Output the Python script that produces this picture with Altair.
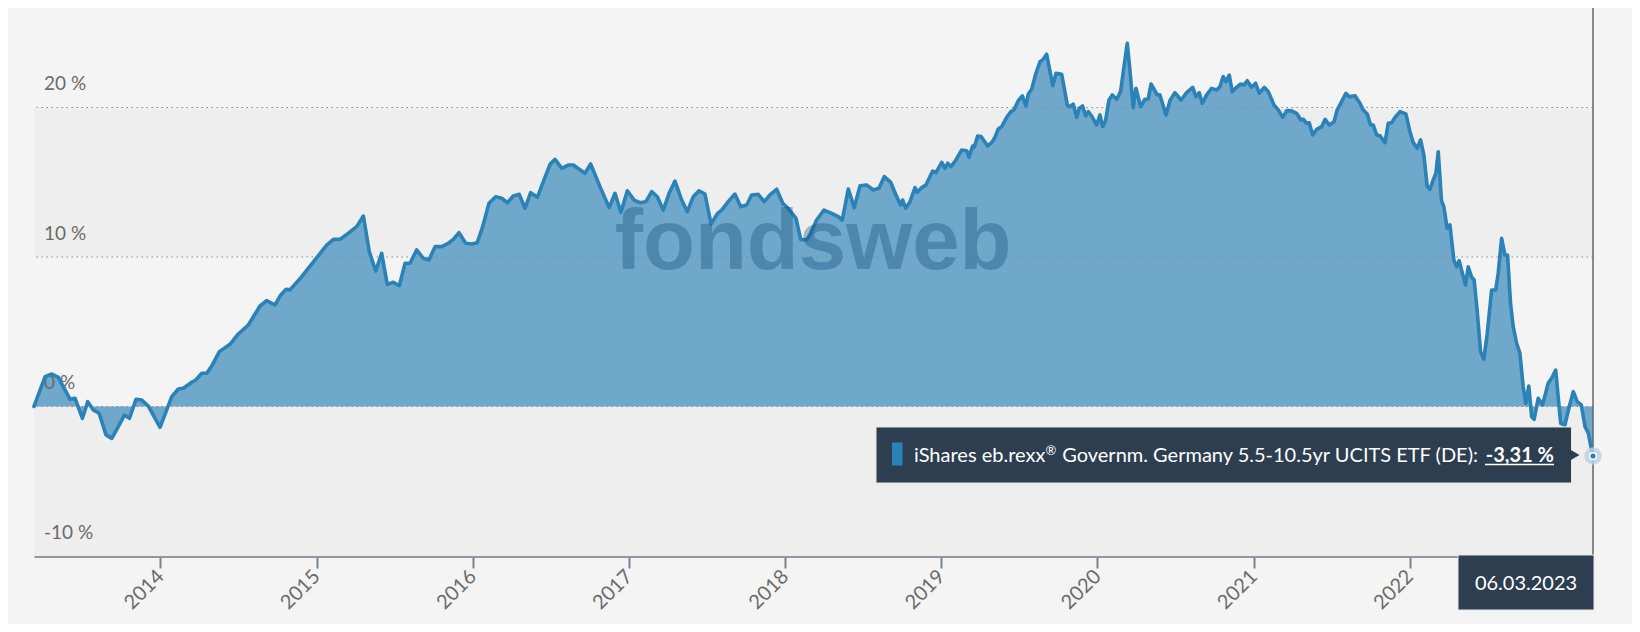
import altair as alt
import pandas as pd

# ---- data (decimal year, performance in %) ----
years = [
    2013.191, 2013.262, 2013.305, 2013.347, 2013.422, 2013.454, 2013.501, 2013.535, 2013.571, 2013.608,
    2013.652, 2013.689, 2013.731, 2013.770, 2013.802, 2013.844, 2013.881, 2013.923, 2013.998, 2014.073,
    2014.115, 2014.147, 2014.201, 2014.227, 2014.265, 2014.297, 2014.333, 2014.378, 2014.446, 2014.499,
    2014.563, 2014.638, 2014.681, 2014.734, 2014.771, 2014.805, 2014.830, 2014.905, 2014.990, 2015.065,
    2015.108, 2015.150, 2015.204, 2015.257, 2015.300, 2015.338, 2015.379, 2015.417, 2015.453, 2015.492,
    2015.530, 2015.567, 2015.599, 2015.641, 2015.684, 2015.720, 2015.759, 2015.802, 2015.844, 2015.876,
    2015.912, 2015.955, 2015.994, 2016.029, 2016.064, 2016.104, 2016.147, 2016.186, 2016.222, 2016.260,
    2016.298, 2016.335, 2016.371, 2016.414, 2016.452, 2016.495, 2016.527, 2016.570, 2016.612, 2016.644,
    2016.682, 2016.719, 2016.755, 2016.815, 2016.874, 2016.911, 2016.949, 2016.990, 2017.033, 2017.071,
    2017.109, 2017.146, 2017.182, 2017.220, 2017.259, 2017.295, 2017.338, 2017.374, 2017.412, 2017.449,
    2017.487, 2017.526, 2017.568, 2017.594, 2017.636, 2017.679, 2017.716, 2017.754, 2017.786, 2017.828,
    2017.867, 2017.903, 2017.946, 2017.985, 2018.020, 2018.070, 2018.100, 2018.138, 2018.159, 2018.202,
    2018.249, 2018.298, 2018.341, 2018.366, 2018.405, 2018.443, 2018.480, 2018.522, 2018.565, 2018.601,
    2018.635, 2018.676, 2018.710, 2018.740, 2018.753, 2018.772, 2018.800, 2018.832, 2018.846, 2018.875,
    2018.902, 2018.945, 2018.966, 2019.003, 2019.024, 2019.041, 2019.062, 2019.094, 2019.131, 2019.163,
    2019.178, 2019.201, 2019.211, 2019.233, 2019.255, 2019.275, 2019.297, 2019.327, 2019.344, 2019.365,
    2019.387, 2019.419, 2019.446, 2019.465, 2019.493, 2019.519, 2019.542, 2019.557, 2019.579, 2019.606,
    2019.632, 2019.653, 2019.675, 2019.714, 2019.735, 2019.771, 2019.807, 2019.824, 2019.845, 2019.867,
    2019.884, 2019.905, 2019.925, 2019.941, 2019.963, 2019.995, 2020.016, 2020.033, 2020.052, 2020.074,
    2020.095, 2020.123, 2020.148, 2020.170, 2020.191, 2020.208, 2020.229, 2020.247, 2020.277, 2020.304,
    2020.325, 2020.343, 2020.383, 2020.400, 2020.439, 2020.464, 2020.496, 2020.535, 2020.571, 2020.610,
    2020.631, 2020.652, 2020.671, 2020.699, 2020.731, 2020.763, 2020.784, 2020.805, 2020.823, 2020.844,
    2020.863, 2020.891, 2020.917, 2020.938, 2020.959, 2020.987, 2021.013, 2021.036, 2021.068, 2021.094,
    2021.130, 2021.158, 2021.186, 2021.212, 2021.243, 2021.275, 2021.303, 2021.318, 2021.340, 2021.356,
    2021.378, 2021.404, 2021.436, 2021.458, 2021.485, 2021.515, 2021.535, 2021.563, 2021.591, 2021.612,
    2021.649, 2021.681, 2021.702, 2021.727, 2021.749, 2021.766, 2021.788, 2021.809, 2021.841, 2021.862,
    2021.884, 2021.905, 2021.937, 2021.975, 2022.001, 2022.022, 2022.047, 2022.069, 2022.090, 2022.111,
    2022.129, 2022.150, 2022.167, 2022.182, 2022.203, 2022.218, 2022.239, 2022.257, 2022.282, 2022.300,
    2022.316, 2022.338, 2022.357, 2022.374, 2022.396, 2022.412, 2022.431, 2022.453, 2022.474, 2022.496,
    2022.524, 2022.550, 2022.566, 2022.588, 2022.609, 2022.626, 2022.645, 2022.662, 2022.684, 2022.705,
    2022.726, 2022.743, 2022.762, 2022.780, 2022.796, 2022.822, 2022.850, 2022.886, 2022.908, 2022.934,
    2022.966, 2022.993, 2023.021, 2023.047, 2023.072, 2023.098, 2023.122, 2023.143, 2023.164, 2023.173,
]
perf = [
    0.00, 2.00, 2.17, 1.95, 0.48, 0.55, -0.79, 0.32, -0.23, -0.45,
    -1.90, -2.13, -1.35, -0.57, -0.79, 0.48, 0.43, 0.03, -1.39, 0.66,
    1.17, 1.22, 1.62, 1.77, 2.22, 2.22, 2.78, 3.67, 4.16, 4.85,
    5.45, 6.72, 7.08, 6.79, 7.46, 7.84, 7.80, 8.68, 9.80, 10.80,
    11.18, 11.18, 11.59, 12.03, 12.74, 10.35, 9.06, 10.25, 8.17, 8.31,
    8.08, 9.58, 9.58, 10.47, 9.91, 9.80, 10.69, 10.69, 10.92, 11.18,
    11.63, 10.92, 10.87, 10.96, 12.03, 13.59, 14.03, 13.93, 13.63, 14.08,
    14.19, 13.26, 14.30, 13.99, 15.04, 16.20, 16.53, 15.93, 16.15, 16.15,
    15.87, 15.60, 16.22, 14.70, 13.30, 14.26, 12.99, 14.43, 13.81, 13.63,
    13.70, 14.37, 14.03, 13.14, 14.30, 15.08, 13.81, 13.03, 14.03, 14.43,
    14.21, 12.21, 12.92, 13.14, 13.70, 14.21, 13.36, 13.48, 14.15, 14.19,
    13.70, 14.15, 14.53, 13.59, 13.26, 12.59, 11.18, 11.14, 11.47, 12.47,
    13.14, 12.92, 12.70, 12.47, 14.55, 13.30, 14.77, 14.82, 14.48, 14.60,
    15.37, 15.00, 14.15, 13.48, 13.81, 13.26, 13.70, 14.64, 14.33, 14.64,
    14.82, 15.75, 15.64, 16.33, 15.93, 16.27, 16.04, 16.49, 17.16, 17.11,
    16.67, 17.42, 17.34, 18.09, 18.05, 17.76, 17.42, 17.71, 18.01, 18.56,
    18.72, 19.34, 19.72, 19.83, 20.45, 20.77, 20.10, 20.90, 21.22, 22.29,
    23.06, 23.22, 23.56, 21.46, 22.29, 22.22, 20.17, 20.05, 20.23, 19.34,
    19.95, 20.10, 19.43, 19.72, 19.43, 18.83, 19.50, 18.72, 19.12, 20.50,
    20.84, 20.55, 21.06, 22.73, 24.29, 22.51, 19.99, 21.28, 20.05, 20.55,
    20.55, 21.57, 20.84, 20.84, 19.50, 20.45, 20.99, 20.50, 20.99, 21.35,
    20.72, 20.99, 20.28, 20.84, 21.28, 21.17, 21.39, 22.06, 21.73, 22.17,
    21.06, 21.35, 21.57, 21.50, 21.79, 21.35, 21.62, 20.95, 21.35, 21.06,
    20.17, 19.83, 19.34, 19.79, 19.77, 19.61, 19.16, 19.21, 18.94, 18.98,
    18.16, 18.54, 18.72, 19.21, 18.83, 19.05, 19.83, 20.39, 20.95, 20.72,
    20.79, 20.28, 19.83, 19.57, 18.83, 18.83, 18.16, 18.11, 17.65, 18.94,
    18.98, 19.34, 19.72, 19.57, 18.38, 17.65, 17.27, 17.83, 16.82, 14.75,
    14.53, 15.15, 15.60, 17.04, 13.77, 13.36, 11.92, 12.14, 9.80, 9.35,
    9.75, 8.86, 8.13, 9.35, 8.64, 8.46, 6.45, 3.67, 3.16, 4.90,
    7.79, 7.79, 8.91, 11.25, 10.13, 10.13, 6.90, 5.34, 4.23, 3.56,
    1.32, 0.21, 1.37, -0.68, -0.86, 0.55, 0.10, 1.55, 1.89, 2.44,
    -1.12, -1.24, 0.00, 0.99, 0.32, 0.10, -1.35, -1.79, -2.91, -3.31,
]

tick_years = [2014, 2015, 2016, 2017, 2018, 2019, 2020, 2021, 2022]
grid_values = [20, 10, 0]
label_values = [20, 10, 0, -10]
label_texts = ["20 %", "10 %", "0 %", "-10 %"]
band_lo = [-10, 10]
band_hi = [0, 20]
fund_name_a = "iShares eb.rexx"
fund_name_reg = "\u00ae"
fund_name_b = "Governm. Germany 5.5-10.5yr UCITS ETF (DE):"
last_value_label = "-3,31 %"
last_date_label = "06.03.2023"
watermark = "fondsweb"

# ---- styling ----
W, H = 1559, 546
FONT = "Lato"
LINE_C = "#2a82b9"
FILL_C = "#6fa8cb"
NAVY = "#2d3e50"

x_scale = alt.Scale(domain=[2013.191, 2023.173], nice=False, zero=False)
y_scale = alt.Scale(domain=[-10, 26.52], nice=False, zero=False)

df = pd.DataFrame({"t": years, "v": perf})
last = df.iloc[[-1]].reset_index(drop=True)
one = pd.DataFrame({"a": [0]})

x_axis = alt.Axis(
    values=tick_years, format="d", title=None, grid=False,
    labelAngle=315, labelAlign="right", labelBaseline="middle",
    labelFont=FONT, labelFontSize=20, labelColor="#6b6b6b", labelPadding=5,
    labelFlush=False, labelOverlap=False,
    tickSize=12, tickWidth=2, tickColor="#7b838d",
    domainColor="#8f969f", domainWidth=3,
)
X = alt.X("t:Q", scale=x_scale, axis=x_axis)
Y = alt.Y("v:Q", scale=y_scale, axis=None)

bands = alt.Chart(pd.DataFrame({"lo": band_lo, "hi": band_hi})).mark_rect(
    color="#eeeeee"
).encode(
    x=alt.value(0), x2=alt.value(W),
    y=alt.Y("lo:Q", scale=y_scale, axis=None), y2="hi:Q",
)

area = alt.Chart(df).mark_area(color=FILL_C, opacity=1).encode(
    x=X, y=Y, y2=alt.datum(0)
)

grid = alt.Chart(pd.DataFrame({"v": grid_values})).mark_rule(
    color="#8c8c8c", strokeWidth=1.2, strokeDash=[1.5, 3.5]
).encode(y=Y)

ylabels = alt.Chart(pd.DataFrame({"v": label_values, "label": label_texts})).mark_text(
    font=FONT, fontSize=19, color="#6b6b6b", align="left", baseline="alphabetic", dy=-17
).encode(x=alt.value(10), y=Y, text="label:N")

line = alt.Chart(df).mark_line(
    color=LINE_C, strokeWidth=3.6, strokeJoin="round", strokeCap="round"
).encode(x=X, y=Y)

wm = alt.Chart(one).mark_text(
    text=watermark, font="Liberation Sans", fontWeight="bold", fontSize=85,
    color="#0f4c7a", opacity=0.35, align="center", baseline="alphabetic",
).encode(x=alt.value(779), y=alt.value(259))

cross = alt.Chart(last).mark_rule(color="#5d6774", strokeWidth=1.5).encode(
    x=X, y=alt.value(-10), y2=alt.value(H)
)

halo = alt.Chart(last).mark_point(
    shape="circle", filled=True, size=300, color="#b9d1e3", opacity=0.8
).encode(x=X, y=Y)
dot = alt.Chart(last).mark_point(
    shape="circle", filled=True, size=45, color=LINE_C, opacity=1,
    stroke="white", strokeWidth=1.5
).encode(x=X, y=Y)

tip_box = alt.Chart(one).mark_rect(fill=NAVY, stroke="#e6e6e6", strokeWidth=1).encode(
    x=alt.value(842), x2=alt.value(1537.5), y=alt.value(417), y2=alt.value(473)
)
tip_arrow = alt.Chart(one).mark_point(
    shape="triangle-right", filled=True, size=110, color=NAVY, opacity=1
).encode(x=alt.value(1541), y=alt.value(445))
tip_marker = alt.Chart(one).mark_rect(fill=LINE_C).encode(
    x=alt.value(858), x2=alt.value(868.5), y=alt.value(432.5), y2=alt.value(455.5)
)
tip_text_a = alt.Chart(one).mark_text(
    text=fund_name_a, font=FONT, fontSize=20, color="white", align="left", baseline="alphabetic"
).encode(x=alt.value(880), y=alt.value(451.5))
tip_text_reg = alt.Chart(one).mark_text(
    text=fund_name_reg, font=FONT, fontSize=13, color="white", align="center", baseline="alphabetic"
).encode(x=alt.value(1017), y=alt.value(445))
tip_text_b = alt.Chart(one).mark_text(
    text=fund_name_b, font=FONT, fontSize=20, color="white", align="right", baseline="alphabetic"
).encode(x=alt.value(1444), y=alt.value(451.5))
tip_value = alt.Chart(one).mark_text(
    text=last_value_label, font=FONT, fontSize=20, fontWeight="bold", color="white",
    align="right", baseline="alphabetic"
).encode(x=alt.value(1520), y=alt.value(451.5))
tip_ul = alt.Chart(one).mark_rule(color="white", strokeWidth=1.5).encode(
    x=alt.value(1451), x2=alt.value(1520), y=alt.value(454.5)
)

date_box = alt.Chart(one).mark_rect(fill=NAVY, stroke="#e6e6e6", strokeWidth=1).encode(
    x=alt.value(1424), x2=alt.value(1560), y=alt.value(545), y2=alt.value(600)
)
date_text = alt.Chart(one).mark_text(
    text=last_date_label, font=FONT, fontSize=20, color="white", align="center", baseline="alphabetic"
).encode(x=alt.value(1492), y=alt.value(579.5))

chart = alt.layer(
    bands, area, grid, ylabels, line, wm, cross, halo, dot,
    tip_box, tip_arrow, tip_marker, tip_text_a, tip_text_reg, tip_text_b,
    tip_value, tip_ul, date_box, date_text,
).properties(
    width=W, height=H,
    padding={"left": 26, "top": 2, "right": 39, "bottom": 68},
    autosize=alt.AutoSizeParams(type="none"),
    background="#f4f4f4",
).configure_view(stroke=None)

chart.save("out.html", embed_options={"renderer": "svg", "actions": False})
